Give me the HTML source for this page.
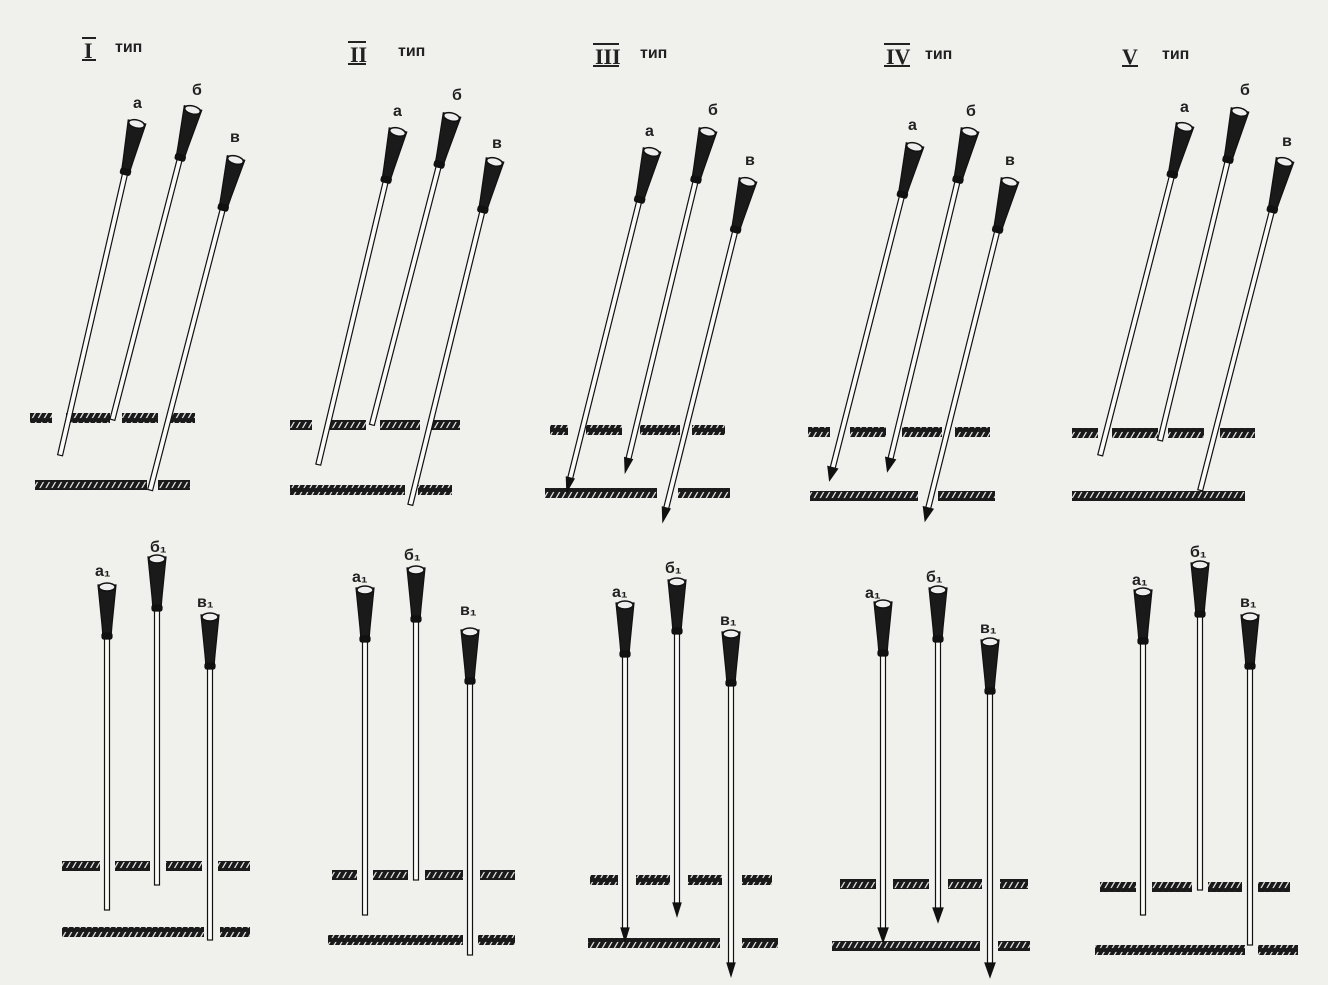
<!DOCTYPE html>
<html><head><meta charset="utf-8"><style>
html,body{margin:0;padding:0;background:#f0f0ed;}
svg{display:block;}
text{font-family:"Liberation Sans",sans-serif;font-weight:bold;fill:#222;}
.r{font-family:"Liberation Serif",serif;}
</style></head><body>
<svg width="1328" height="985" viewBox="0 0 1328 985" xmlns="http://www.w3.org/2000/svg">
<defs>
<pattern id="h" width="6" height="10" patternUnits="userSpaceOnUse" patternTransform="skewX(-30)">
<rect width="6" height="10" fill="#1a1a1a"/><rect x="3" y="2" width="1.5" height="6" fill="#ddd"/>
</pattern>
<g id="hd">
<polygon points="-9,0 9,0 5,40 4,52 -4,52 -5,40" fill="#1a1a1a"/>
<ellipse cx="0" cy="2" rx="8" ry="4" fill="#eee" stroke="#111" stroke-width="1.5"/>
<rect x="-5" y="48" width="10" height="6" rx="2" fill="#111"/>
</g>
</defs>
<rect width="1328" height="985" fill="#f0f0ed"/>
<g font-size="22" class="r">
<text class="r" x="84" y="58">I</text>
<text class="r" x="350" y="62">II</text>
<text class="r" x="595" y="64">III</text>
<text class="r" x="886" y="64">IV</text>
<text class="r" x="1122" y="64">V</text>
</g>
<g stroke="#222" stroke-width="2">
<line x1="82" y1="38" x2="96" y2="38"/><line x1="82" y1="60" x2="96" y2="60"/>
<line x1="348" y1="42" x2="366" y2="42"/><line x1="348" y1="64" x2="366" y2="64"/>
<line x1="593" y1="44" x2="619" y2="44"/><line x1="593" y1="66" x2="619" y2="66"/>
<line x1="884" y1="44" x2="910" y2="44"/><line x1="884" y1="66" x2="910" y2="66"/>
<line x1="1122" y1="66" x2="1138" y2="66"/>
</g>
<g font-size="16">
<text x="115" y="52">тип</text><text x="398" y="56">тип</text><text x="640" y="58">тип</text><text x="925" y="59">тип</text><text x="1162" y="59">тип</text>
<text x="133" y="108">a</text><text x="192" y="95">б</text><text x="230" y="142">в</text>
<text x="393" y="116">a</text><text x="452" y="100">б</text><text x="492" y="148">в</text>
<text x="645" y="136">a</text><text x="708" y="115">б</text><text x="745" y="165">в</text>
<text x="908" y="130">a</text><text x="966" y="116">б</text><text x="1005" y="165">в</text>
<text x="1180" y="112">a</text><text x="1240" y="95">б</text><text x="1282" y="146">в</text>
<text x="95" y="576">a₁</text><text x="150" y="552">б₁</text><text x="197" y="607">в₁</text>
<text x="352" y="582">a₁</text><text x="404" y="560">б₁</text><text x="460" y="615">в₁</text>
<text x="612" y="597">a₁</text><text x="665" y="573">б₁</text><text x="720" y="625">в₁</text>
<text x="865" y="598">a₁</text><text x="926" y="582">б₁</text><text x="980" y="633">в₁</text>
<text x="1132" y="585">a₁</text><text x="1190" y="557">б₁</text><text x="1240" y="607">в₁</text>
</g>
<g fill="url(#h)">
<rect x="30" y="413" width="22" height="10"/><rect x="66" y="413" width="44" height="10"/><rect x="122" y="413" width="36" height="10"/><rect x="170" y="413" width="25" height="10"/>
<rect x="35" y="480" width="112" height="10"/><rect x="158" y="480" width="32" height="10"/>
<rect x="290" y="420" width="22" height="10"/><rect x="326" y="420" width="40" height="10"/><rect x="380" y="420" width="40" height="10"/><rect x="430" y="420" width="30" height="10"/>
<rect x="290" y="485" width="115" height="10"/><rect x="418" y="485" width="34" height="10"/>
<rect x="550" y="425" width="18" height="10"/><rect x="586" y="425" width="36" height="10"/><rect x="640" y="425" width="40" height="10"/><rect x="692" y="425" width="33" height="10"/>
<rect x="545" y="488" width="112" height="10"/><rect x="678" y="488" width="52" height="10"/>
<rect x="808" y="427" width="22" height="10"/><rect x="850" y="427" width="36" height="10"/><rect x="902" y="427" width="40" height="10"/><rect x="955" y="427" width="35" height="10"/>
<rect x="810" y="491" width="108" height="10"/><rect x="938" y="491" width="57" height="10"/>
<rect x="1072" y="428" width="26" height="10"/><rect x="1112" y="428" width="46" height="10"/><rect x="1168" y="428" width="36" height="10"/><rect x="1220" y="428" width="35" height="10"/>
<rect x="1072" y="491" width="173" height="10"/>
<rect x="62" y="861" width="38" height="10"/><rect x="115" y="861" width="35" height="10"/><rect x="166" y="861" width="36" height="10"/><rect x="218" y="861" width="32" height="10"/>
<rect x="62" y="927" width="142" height="10"/><rect x="220" y="927" width="30" height="10"/>
<rect x="332" y="870" width="25" height="10"/><rect x="373" y="870" width="35" height="10"/><rect x="425" y="870" width="38" height="10"/><rect x="480" y="870" width="35" height="10"/>
<rect x="328" y="935" width="135" height="10"/><rect x="478" y="935" width="37" height="10"/>
<rect x="590" y="875" width="28" height="10"/><rect x="636" y="875" width="34" height="10"/><rect x="688" y="875" width="34" height="10"/><rect x="742" y="875" width="30" height="10"/>
<rect x="588" y="938" width="132" height="10"/><rect x="742" y="938" width="36" height="10"/>
<rect x="840" y="879" width="36" height="10"/><rect x="893" y="879" width="36" height="10"/><rect x="948" y="879" width="34" height="10"/><rect x="1000" y="879" width="28" height="10"/>
<rect x="832" y="941" width="148" height="10"/><rect x="998" y="941" width="32" height="10"/>
<rect x="1100" y="882" width="36" height="10"/><rect x="1152" y="882" width="40" height="10"/><rect x="1208" y="882" width="34" height="10"/><rect x="1258" y="882" width="32" height="10"/>
<rect x="1095" y="945" width="150" height="10"/><rect x="1258" y="945" width="40" height="10"/>
</g>
<g fill="#fafaf8" stroke="#111" stroke-width="1.2">
<g transform="translate(137,122) rotate(13)"><rect x="-2.5" y="50" width="5" height="292"/><use href="#hd"/></g>
<g transform="translate(193,108) rotate(14.5)"><rect x="-2.5" y="50" width="5" height="272"/><use href="#hd"/></g>
<g transform="translate(236,158) rotate(14.5)"><rect x="-2.5" y="50" width="5" height="293"/><use href="#hd"/></g>
<g transform="translate(398,130) rotate(13.4)"><rect x="-2.5" y="50" width="5" height="294"/><use href="#hd"/></g>
<g transform="translate(452,115) rotate(14.5)"><rect x="-2.5" y="50" width="5" height="270"/><use href="#hd"/></g>
<g transform="translate(495,160) rotate(13.8)"><rect x="-2.5" y="50" width="5" height="305"/><use href="#hd"/></g>
<g transform="translate(652,150) rotate(14)"><rect x="-2.5" y="50" width="5" height="290"/><polygon points="-4,338 4,338 0,352" fill="#111"/><use href="#hd"/></g>
<g transform="translate(708,130) rotate(13.6)"><rect x="-2.5" y="50" width="5" height="290"/><polygon points="-4,338 4,338 0,352" fill="#111"/><use href="#hd"/></g>
<g transform="translate(748,180) rotate(14)"><rect x="-2.5" y="50" width="5" height="290"/><polygon points="-4,338 4,338 0,352" fill="#111"/><use href="#hd"/></g>
<g transform="translate(915,145) rotate(14.3)"><rect x="-2.5" y="50" width="5" height="285"/><polygon points="-5,333 5,333 0,346" fill="#111"/><use href="#hd"/></g>
<g transform="translate(970,130) rotate(13.6)"><rect x="-2.5" y="50" width="5" height="290"/><polygon points="-5,338 5,338 0,351" fill="#111"/><use href="#hd"/></g>
<g transform="translate(1010,180) rotate(14)"><rect x="-2.5" y="50" width="5" height="290"/><polygon points="-5,338 5,338 0,351" fill="#111"/><use href="#hd"/></g>
<g transform="translate(1185,125) rotate(14.4)"><rect x="-2.5" y="50" width="5" height="291"/><use href="#hd"/></g>
<g transform="translate(1240,110) rotate(13.6)"><rect x="-2.5" y="50" width="5" height="290"/><use href="#hd"/></g>
<g transform="translate(1285,160) rotate(14.4)"><rect x="-2.5" y="50" width="5" height="291"/><use href="#hd"/></g>
</g>
<g fill="#fafaf8" stroke="#111" stroke-width="1.2">
<g transform="translate(107,585)"><rect x="-2.5" y="50" width="5" height="275"/><use href="#hd"/></g>
<g transform="translate(157,557)"><rect x="-2.5" y="50" width="5" height="278"/><use href="#hd"/></g>
<g transform="translate(210,615)"><rect x="-2.5" y="50" width="5" height="275"/><use href="#hd"/></g>
<g transform="translate(365,588)"><rect x="-2.5" y="50" width="5" height="277"/><use href="#hd"/></g>
<g transform="translate(416,568)"><rect x="-2.5" y="50" width="5" height="262"/><use href="#hd"/></g>
<g transform="translate(470,630)"><rect x="-2.5" y="50" width="5" height="275"/><use href="#hd"/></g>
<g transform="translate(625,603)"><rect x="-2.5" y="50" width="5" height="277"/><polygon points="-4,325 4,325 0,338" fill="#111"/><use href="#hd"/></g>
<g transform="translate(677,580)"><rect x="-2.5" y="50" width="5" height="275"/><polygon points="-4,323 4,323 0,336" fill="#111"/><use href="#hd"/></g>
<g transform="translate(731,632)"><rect x="-2.5" y="50" width="5" height="283"/><polygon points="-4,331 4,331 0,344" fill="#111"/><use href="#hd"/></g>
<g transform="translate(883,602)"><rect x="-2.5" y="50" width="5" height="278"/><polygon points="-5,326 5,326 0,340" fill="#111"/><use href="#hd"/></g>
<g transform="translate(938,588)"><rect x="-2.5" y="50" width="5" height="272"/><polygon points="-5,320 5,320 0,334" fill="#111"/><use href="#hd"/></g>
<g transform="translate(990,640)"><rect x="-2.5" y="50" width="5" height="275"/><polygon points="-5,323 5,323 0,337" fill="#111"/><use href="#hd"/></g>
<g transform="translate(1143,590)"><rect x="-2.5" y="50" width="5" height="275"/><use href="#hd"/></g>
<g transform="translate(1200,563)"><rect x="-2.5" y="50" width="5" height="277"/><use href="#hd"/></g>
<g transform="translate(1250,615)"><rect x="-2.5" y="50" width="5" height="280"/><use href="#hd"/></g>
</g>
</svg>
</body></html>
